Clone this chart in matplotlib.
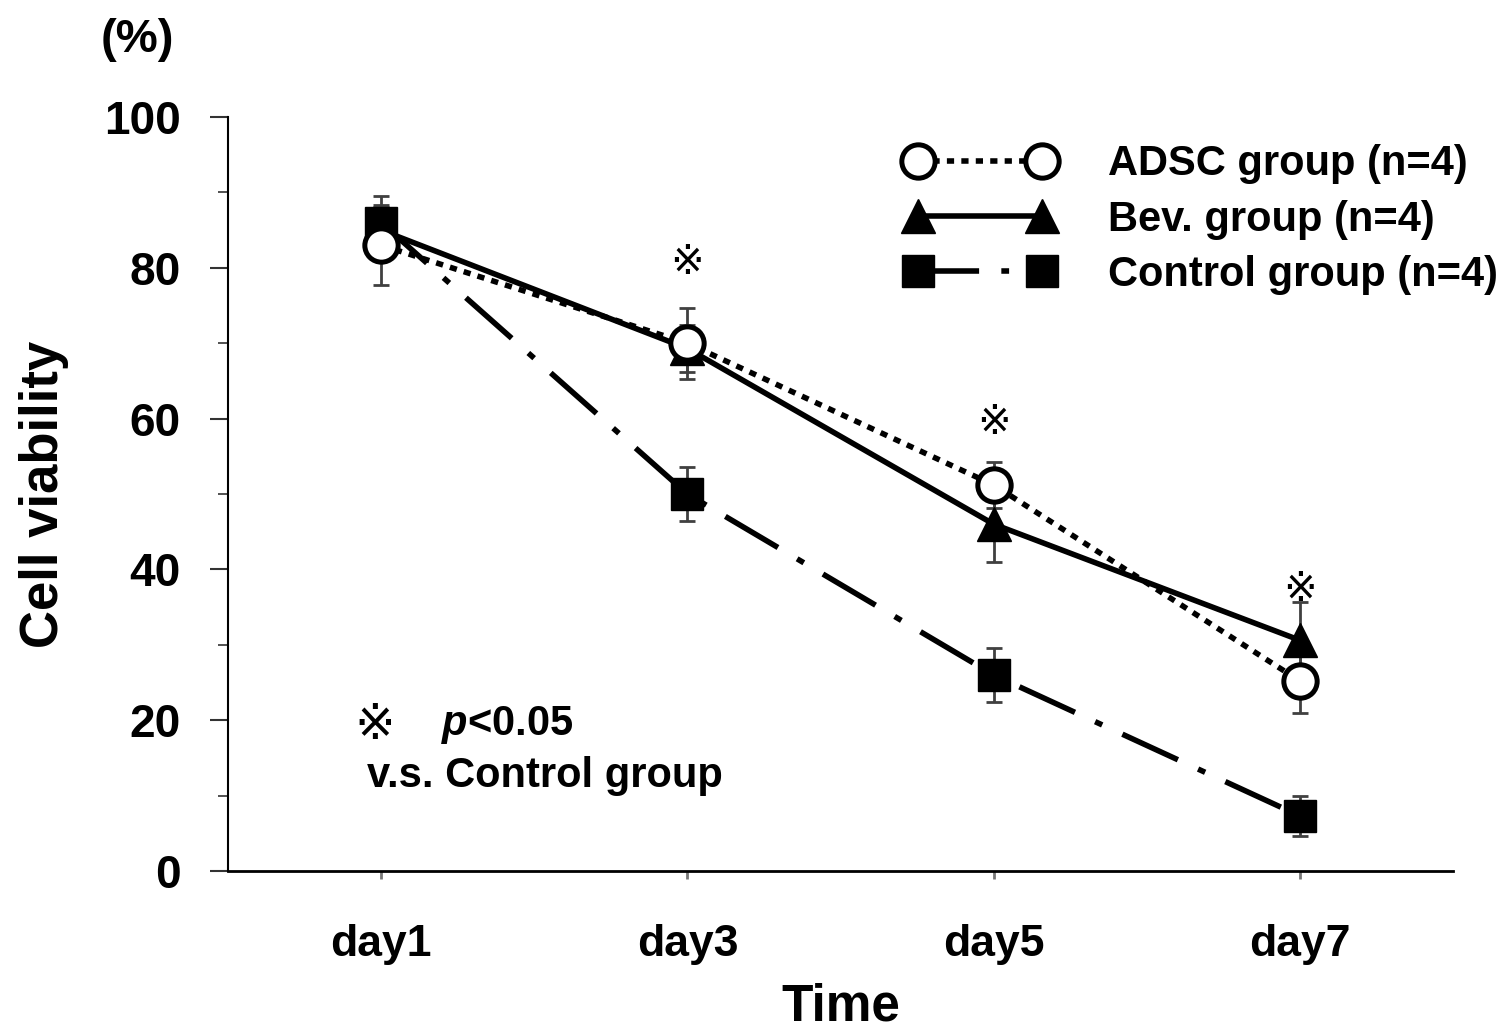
import matplotlib
matplotlib.use("Agg")
import matplotlib.pyplot as plt
from matplotlib.ticker import MultipleLocator

plt.rcParams["font.family"] = ["Liberation Sans", "DejaVu Sans"]
plt.rcParams["font.weight"] = "bold"
plt.rcParams["mathtext.fontset"] = "custom"
plt.rcParams["mathtext.it"] = "Liberation Sans:italic:bold"
plt.rcParams["mathtext.rm"] = "Liberation Sans:bold"

# data
days = ["day1", "day3", "day5", "day7"]
x = [1, 2, 3, 4]

adsc = [83.0, 70.0, 51.2, 25.2]
adsc_err = [5.3, 4.7, 3.0, 4.3]

bev = [85.0, 69.3, 46.0, 30.6]
bev_err = [3.0, 3.1, 5.0, 5.1]

control = [86.0, 50.0, 26.0, 7.3]
control_err = [3.5, 3.6, 3.6, 2.7]

labels = ["ADSC group (n=4)", "Bev. group (n=4)", "Control group (n=4)"]
star_y = [80.6, 59.4, 37.3]  # ※ marks at day3, day5, day7

fig = plt.figure(figsize=(15.12, 10.30), dpi=100)
ax = fig.add_axes([0.1508, 0.1544, 0.8102, 0.7320])

err_kw = dict(fmt="none", ecolor="#404040", elinewidth=2, capsize=6, capthick=2)
ax.errorbar(x, bev, yerr=bev_err, zorder=2, **err_kw)
ax.errorbar(x, control, yerr=control_err, zorder=2, **err_kw)
ax.errorbar(x, adsc, yerr=adsc_err, zorder=2, **err_kw)

l_bev, = ax.plot(x, bev, color="black", lw=4, ls="-", marker="^", ms=25,
                 mfc="black", mec="black", zorder=3)
l_ctrl, = ax.plot(x, control, color="black", lw=4, ls=(0, (11, 4, 1.4, 4)),
                  marker="s", ms=23, mfc="black", mec="black", zorder=4)
l_adsc, = ax.plot(x, adsc, color="black", lw=4, ls=(0, (1.3, 1.3)),
                  marker="o", ms=24, mfc="white", mec="black", mew=3.6,
                  zorder=5)

ax.set_xlim(0.5, 4.5)
ax.set_ylim(0, 100)
ax.set_xticks(x)
ax.set_xticklabels(days)
ax.yaxis.set_major_locator(MultipleLocator(20))
ax.yaxis.set_minor_locator(MultipleLocator(10))

for s in ["top", "right"]:
    ax.spines[s].set_visible(False)
ax.spines["left"].set_linewidth(1.5)
ax.spines["bottom"].set_linewidth(2)

ax.tick_params(axis="y", which="major", length=13, width=1.5, color="#333333",
               labelsize=33, pad=21)
ax.tick_params(axis="y", which="minor", length=7, width=1.2, color="#333333")
ax.tick_params(axis="x", length=6, width=2, color="#777777", labelsize=32,
               pad=32)

ax.set_xlabel("Time", fontsize=37, fontweight="bold", labelpad=13)
ax.set_ylabel("Cell viability", fontsize=38, fontweight="bold", labelpad=25)
fig.text(0.091, 0.961, "(%)", fontsize=34, fontweight="bold",
         ha="center", va="center")

for xi, yi in zip(x[1:], star_y):
    ax.text(xi, yi, "\u203b", fontsize=29, fontweight="normal",
            ha="center", va="center", family=["DejaVu Sans"])

ax.text(0.98, 19.3, "\u203b", fontsize=35, fontweight="normal",
        ha="center", va="center", family=["DejaVu Sans"])
ax.text(1.195, 19.3, "$p$<0.05", fontsize=30, fontweight="bold",
        ha="left", va="center")
ax.text(0.955, 12.6, "v.s. Control group", fontsize=30, fontweight="bold",
        ha="left", va="center")

fig.legend([l_adsc, l_bev, l_ctrl], labels, loc="upper left",
           bbox_to_anchor=(0.599, 0.860), frameon=False, fontsize=30,
           numpoints=2, handlelength=3.57, handletextpad=1.28,
           labelspacing=0.37, borderpad=0, borderaxespad=0)

fig.savefig("out.png", dpi=100)
